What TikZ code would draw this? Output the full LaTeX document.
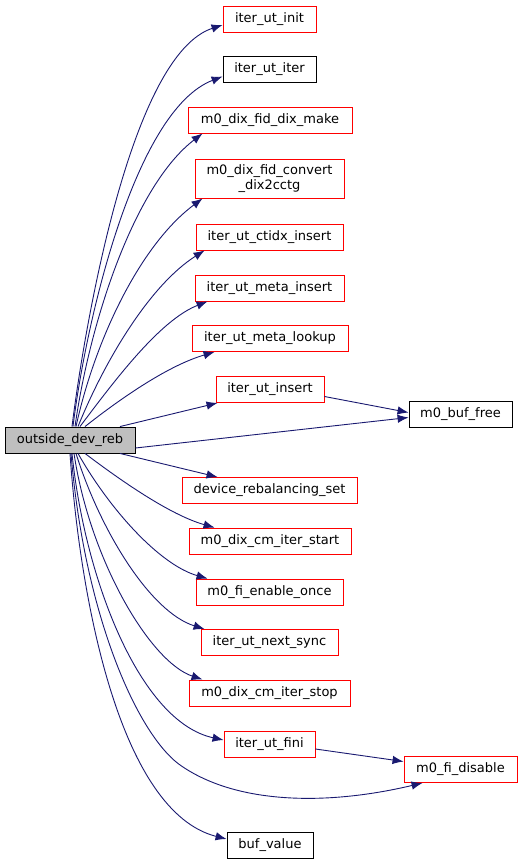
\documentclass[tikz,border=0pt]{standalone}
\usepackage{fontspec}
\setmainfont{DejaVu Sans}
\usetikzlibrary{arrows.meta}
\definecolor{edgeblue}{HTML}{191970}
\definecolor{srcgray}{HTML}{BFBFBF}

\begin{document}
\begin{tikzpicture}[x=1pt, y=-1pt,
  fn/.style={draw=red, line width=0.9pt, minimum height=26pt, inner sep=0pt,
    font=\fontsize{13}{15}\selectfont},
  fnb/.style={fn, draw=black},
  call/.style={draw=edgeblue, line width=0.9pt, -{Latex[length=11pt,width=8.5pt]}}]
  \useasboundingbox (0,0) rectangle (523,864);
  % 호출 원점
  \node (src) at (70,440) [fnb, fill=srcgray, minimum width=130pt] {outside\_dev\_reb};
  % 피호출 함수 (위쪽)
  \node (init)     at (269.5,19)    [fn,  minimum width=93pt]  {iter\_ut\_init};
  \node (iter)     at (269.5,69.5)  [fnb, minimum width=93pt]  {iter\_ut\_iter};
  \node (dixmake)  at (270,120)     [fn,  minimum width=164pt] {m0\_dix\_fid\_dix\_make};
  \node (convert)  at (269.5,178.5) [fn,  minimum width=149pt, minimum height=39pt, align=center]
    {m0\_dix\_fid\_convert\\\_dix2cctg};
  \node (ctidx)    at (269.5,237)   [fn,  minimum width=147pt] {iter\_ut\_ctidx\_insert};
  \node (metains)  at (269.5,288)   [fn,  minimum width=149pt] {iter\_ut\_meta\_insert};
  \node (metalook) at (270,338.5)   [fn,  minimum width=156pt] {iter\_ut\_meta\_lookup};
  \node (utins)    at (270,389.5)   [fn,  minimum width=108pt] {iter\_ut\_insert};
  \node (buffree)  at (460.5,414.5) [fnb, minimum width=103pt] {m0\_buf\_free};
  % 피호출 함수 (아래쪽)
  \node (rebal)    at (269.5,490.5) [fn,  minimum width=175pt] {device\_rebalancing\_set};
  \node (cmstart)  at (270,541)     [fn,  minimum width=162pt] {m0\_dix\_cm\_iter\_start};
  \node (enable)   at (269.5,592)   [fn,  minimum width=147pt] {m0\_fi\_enable\_once};
  \node (nextsync) at (269.5,642.5) [fn,  minimum width=137pt] {iter\_ut\_next\_sync};
  \node (cmstop)   at (269.5,693)   [fn,  minimum width=161pt] {m0\_dix\_cm\_iter\_stop};
  \node (fini)     at (269.5,744)   [fn,  minimum width=91pt]  {iter\_ut\_fini};
  \node (fidis)    at (460.5,769.5) [fn,  minimum width=113pt] {m0\_fi\_disable};
  \node (bufval)   at (270,845)     [fnb, minimum width=86pt]  {buf\_value};
  % 위로 가는 호출
  \draw[call] ([xshift=2pt]src.north)  .. controls (84,330) and (130,55)  .. ([yshift=-6pt]init.west);
  \draw[call] ([xshift=3pt]src.north)  .. controls (86,320) and (135,110) .. ([yshift=-7pt]iter.west);
  \draw[call] ([xshift=5pt]src.north)  .. controls (90,320) and (135,185) .. ([xshift=15pt]dixmake.south west);
  \draw[call] ([xshift=6pt]src.north)  .. controls (95,340) and (140,245) .. ([xshift=8pt]convert.south west);
  \draw[call] ([xshift=8pt]src.north)  .. controls (105,360) and (150,285) .. ([xshift=9pt]ctidx.south west);
  \draw[call] ([xshift=10pt]src.north) .. controls (115,380) and (160,320) .. ([xshift=13pt]metains.south west);
  \draw[call] ([xshift=15pt]src.north) .. controls (125,395) and (170,365) .. ([xshift=23pt]metalook.south west);
  \draw[call] ([xshift=50pt]src.north) -- ([xshift=2pt]utins.south west);
  \draw[call] ([yshift=-7pt]utins.east) -- ([yshift=2pt]buffree.west);
  \draw[call] ([yshift=-8pt]src.east) -- ([yshift=-3pt]buffree.west);
  % 아래로 가는 호출
  \draw[call] ([xshift=50pt]src.south) -- ([xshift=36pt]rebal.north west);
  \draw[call] ([xshift=15pt]src.south) .. controls (120,480) and (170,515) .. ([xshift=26pt]cmstart.north west);
  \draw[call] ([xshift=8pt]src.south)  .. controls (110,510) and (160,565) .. ([xshift=12pt]enable.north west);
  \draw[call] ([xshift=6pt]src.south)  .. controls (100,530) and (150,612) .. ([xshift=4pt]nextsync.north west);
  \draw[call] ([xshift=4pt]src.south)  .. controls (90,560) and (150,662) .. ([xshift=14pt]cmstop.north west);
  \draw[call] ([xshift=2pt]src.south)  .. controls (85,580) and (140,722) .. ([yshift=4pt]fini.west);
  \draw[call] ([yshift=-5pt]fini.east) -- ([yshift=8pt]fidis.west);
  \draw[call] ([xshift=1pt]src.south)  .. controls (85,620) and (140,740) .. (183,767)
    .. controls (240,805) and (330,805) .. ([xshift=19pt]fidis.south west);
  \draw[call] (src.south) .. controls (80,600) and (120,812) .. ([yshift=6pt]bufval.west);
\end{tikzpicture}
\end{document}
